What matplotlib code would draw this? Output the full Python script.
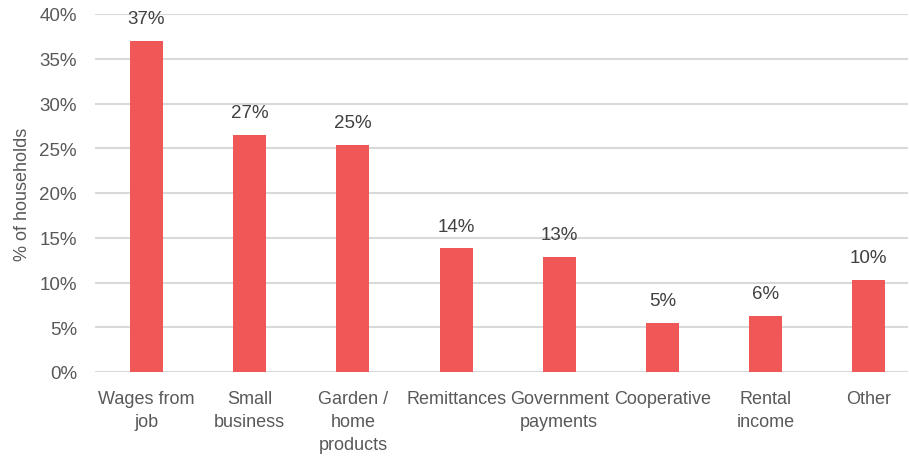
import numpy as np
import matplotlib.pyplot as plt

# datos
cats = ['Wages from\njob', 'Small\nbusiness', 'Garden /\nhome\nproducts', 'Remittances',
        'Government\npayments', 'Cooperative', 'Rental\nincome', 'Other']
vals = [37.0, 26.5, 25.4, 13.8, 12.9, 5.5, 6.3, 10.3]
labels = ['37%', '27%', '25%', '14%', '13%', '5%', '6%', '10%']
yticks = [0, 5, 10, 15, 20, 25, 30, 35, 40]

plt.rcParams['font.family'] = ['Liberation Sans', 'DejaVu Sans']

fig = plt.figure(figsize=(9.09, 4.6), dpi=100)
ax = fig.add_axes([95/909, 87/460, 813/909, 358/460])

x = np.arange(len(cats))
ax.bar(x, vals, width=0.32, color='#EF5857', zorder=3)
for xi, v, lab in zip(x, vals, labels):
    ax.text(xi, v + 1.5, lab, ha='center', va='bottom', fontsize=13.5, color='#404040')

ax.set_ylim(0, 40)
ax.set_xlim(-0.5, 7.38)
ax.set_yticks(yticks)
ax.set_yticklabels([f'{t}%' for t in yticks], fontsize=13.5, color='#595959')
ax.set_xticks(x)
ax.set_xticklabels(cats, fontsize=13, color='#595959', linespacing=1.45)
ax.tick_params(axis='x', length=0, pad=13)
ax.tick_params(axis='y', length=0, pad=13)
ax.grid(axis='y', color='#d9d9d9', linewidth=1.5, zorder=0)
for s in ax.spines.values():
    s.set_visible(False)
ax.set_ylabel('% of households', fontsize=13, color='#595959', labelpad=6)

fig.savefig('out.png', dpi=100)
